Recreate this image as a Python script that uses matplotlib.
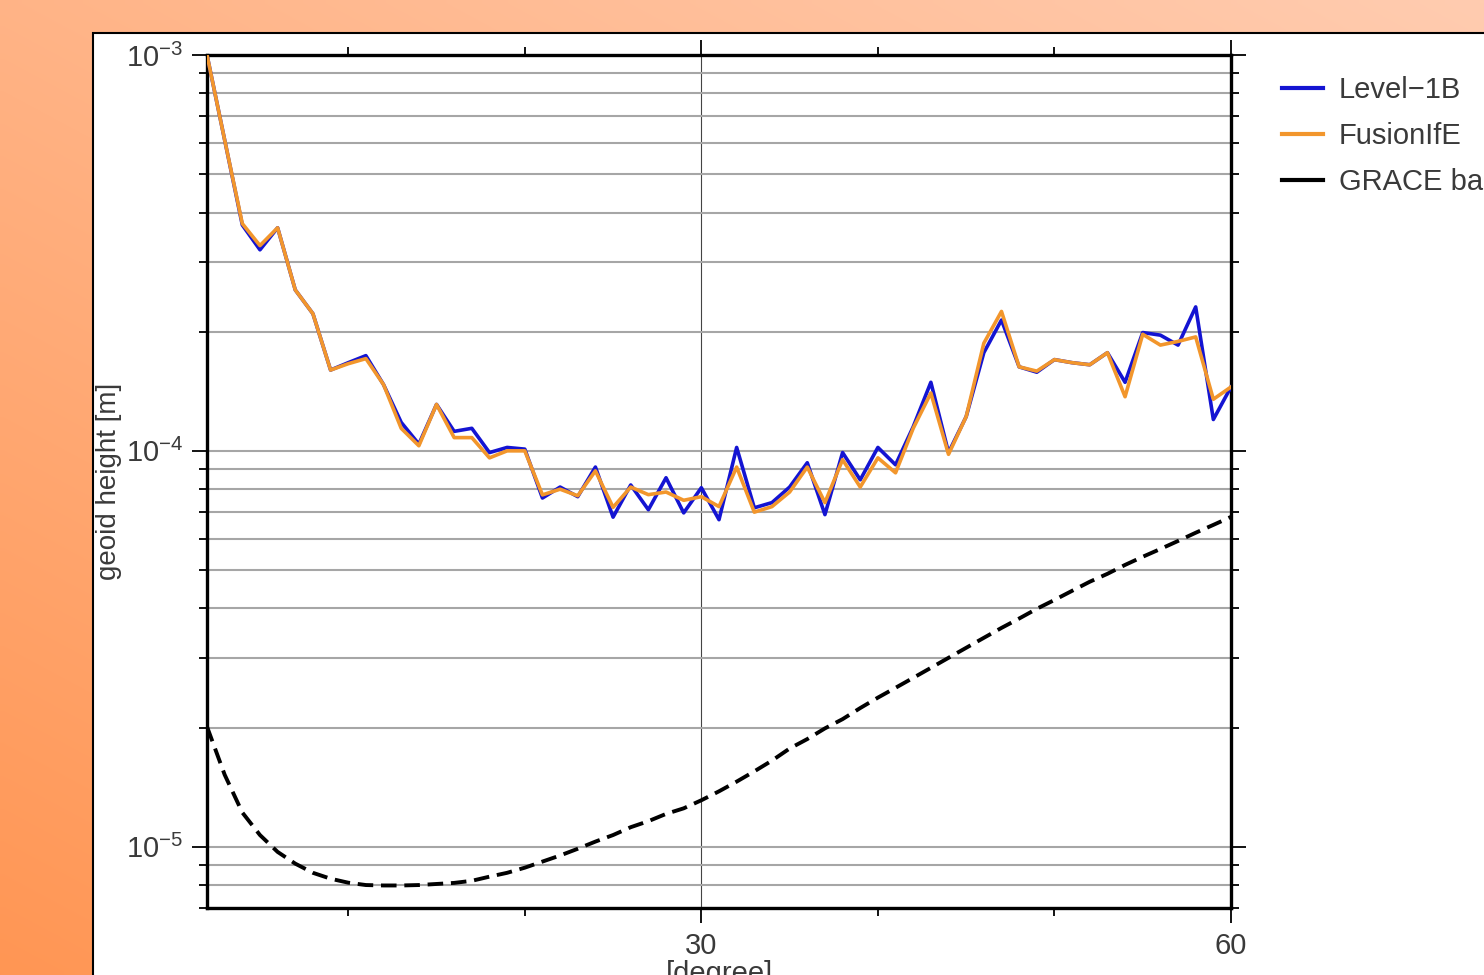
import numpy as np
import matplotlib
matplotlib.use("Agg")
import matplotlib.pyplot as plt
from matplotlib.patches import Rectangle
from matplotlib.lines import Line2D
from matplotlib.ticker import LogLocator, LogFormatterSciNotation, NullFormatter

plt.rcParams['font.family'] = ['Liberation Sans', 'DejaVu Sans']
plt.rcParams['mathtext.fontset'] = 'custom'
plt.rcParams['mathtext.rm'] = 'Liberation Sans'
plt.rcParams['mathtext.it'] = 'Liberation Sans:italic'

# spherical harmonic degree
degree = np.arange(2, 61)

# degree amplitudes [m]
level1b = [1.0e-3, 6.1e-4, 3.72e-4, 3.22e-4, 3.66e-4, 2.55e-4, 2.22e-4, 1.60e-4, 1.67e-4, 1.74e-4,
           1.47e-4, 1.18e-4, 1.04e-4, 1.31e-4, 1.12e-4, 1.14e-4, 9.9e-5, 1.02e-4, 1.01e-4, 7.6e-5,
           8.1e-5, 7.66e-5, 9.1e-5, 6.8e-5, 8.2e-5, 7.1e-5, 8.55e-5, 6.97e-5, 8.07e-5, 6.7e-5,
           1.02e-4, 7.18e-5, 7.4e-5, 8.1e-5, 9.33e-5, 6.9e-5, 9.9e-5, 8.45e-5, 1.02e-4, 9.22e-5,
           1.15e-4, 1.49e-4, 9.9e-5, 1.22e-4, 1.77e-4, 2.14e-4, 1.63e-4, 1.58e-4, 1.70e-4, 1.67e-4,
           1.65e-4, 1.77e-4, 1.49e-4, 1.99e-4, 1.96e-4, 1.85e-4, 2.31e-4, 1.20e-4, 1.45e-4]
fusion = [1.0e-3, 6.1e-4, 3.75e-4, 3.3e-4, 3.66e-4, 2.55e-4, 2.22e-4, 1.60e-4, 1.66e-4, 1.71e-4,
          1.47e-4, 1.14e-4, 1.03e-4, 1.31e-4, 1.08e-4, 1.08e-4, 9.6e-5, 1.0e-4, 1.0e-4, 7.74e-5,
          8.0e-5, 7.7e-5, 8.9e-5, 7.2e-5, 8.1e-5, 7.75e-5, 7.87e-5, 7.5e-5, 7.66e-5, 7.23e-5,
          9.1e-5, 7.0e-5, 7.23e-5, 7.87e-5, 9.1e-5, 7.4e-5, 9.5e-5, 8.1e-5, 9.6e-5, 8.8e-5,
          1.14e-4, 1.40e-4, 9.8e-5, 1.22e-4, 1.87e-4, 2.25e-4, 1.63e-4, 1.59e-4, 1.70e-4, 1.67e-4,
          1.65e-4, 1.77e-4, 1.37e-4, 1.97e-4, 1.85e-4, 1.89e-4, 1.94e-4, 1.35e-4, 1.45e-4]
grace = [2.01e-5, 1.52e-5, 1.22e-5, 1.07e-5, 9.7e-6, 9.06e-6, 8.59e-6, 8.30e-6, 8.11e-6, 8.0e-6,
         7.98e-6, 7.98e-6, 8.0e-6, 8.05e-6, 8.1e-6, 8.2e-6, 8.4e-6, 8.59e-6, 8.85e-6, 9.17e-6,
         9.5e-6, 9.88e-6, 1.03e-5, 1.07e-5, 1.12e-5, 1.16e-5, 1.21e-5, 1.25e-5, 1.31e-5, 1.38e-5,
         1.46e-5, 1.55e-5, 1.65e-5, 1.77e-5, 1.87e-5, 1.99e-5, 2.10e-5, 2.24e-5, 2.38e-5, 2.52e-5,
         2.67e-5, 2.83e-5, 3.0e-5, 3.18e-5, 3.37e-5, 3.57e-5, 3.77e-5, 3.99e-5, 4.2e-5, 4.43e-5,
         4.67e-5, 4.89e-5, 5.15e-5, 5.4e-5, 5.65e-5, 5.92e-5, 6.21e-5, 6.5e-5, 6.81e-5]
labels = ['Level\u22121B', 'FusionIfE', 'GRACE baseline']

W, H = 1484, 975
fig = plt.figure(figsize=(W / 100, H / 100), dpi=100)

# orange backdrop, lighter towards the top right
bg = fig.add_axes([0, 0, 1, 1])
bg.set_xlim(0, 1)
bg.set_ylim(0, 1)
bg.axis('off')
gx, gy = np.meshgrid(np.linspace(0, 1, 200), np.linspace(1, 0, 150))
t = np.clip(0.55 * (1 - gy) + 0.45 * (1 - gx), 0, 1)[..., None]
c0 = np.array([255, 204, 176]) / 255
c1 = np.array([255, 150, 84]) / 255
bg.imshow(c0 * (1 - t) + c1 * t, extent=[0, 1, 0, 1], aspect='auto', interpolation='bilinear')
bg.add_patch(Rectangle((93 / W, -0.1), 2, 1.1 - 33 / H, facecolor='white',
                       edgecolor='black', lw=1.5, clip_on=False))

ax = fig.add_axes([207 / W, 1 - 908 / H, 1024 / W, 853 / H])
ax.set_facecolor('none')
ax.set_yscale('log')
ax.set_xlim(2, 60)
ax.set_ylim(7.0e-6, 1e-3)

ax.plot(degree, level1b, color='#1414d2', lw=2.6, zorder=3)
ax.plot(degree, fusion, color='#f2962c', lw=2.6, zorder=4)
ax.plot(degree, grace, color='black', lw=2.8, dashes=(4, 2), zorder=5)

txt = '#3a3a3a'
ax.set_xticks([30, 60])
ax.set_xticks([10, 20, 40, 50], minor=True)
ax.yaxis.set_major_locator(LogLocator(base=10))
ax.yaxis.set_minor_locator(LogLocator(base=10, subs=np.arange(2, 10)))
ax.yaxis.set_major_formatter(LogFormatterSciNotation())
ax.yaxis.set_minor_formatter(NullFormatter())
ax.tick_params(which='major', direction='out', length=11, width=1.3, top=True, right=True,
               labelsize=21, labelcolor=txt, pad=6)
ax.tick_params(which='minor', direction='out', length=6, width=1.3, top=True, right=True)

ax.yaxis.grid(True, which='both', color='#a6a6a6', lw=1.5)
ax.xaxis.grid(True, which='major', color='#444444', lw=0.8)
ax.set_axisbelow(True)
for s in ax.spines.values():
    s.set_linewidth(2.4)

ax.set_xlabel('[degree]', fontsize=21, color=txt, labelpad=0)
ax.set_ylabel('geoid height [m]', fontsize=20, color=txt)
ax.yaxis.set_label_coords(-0.083, 0.5)

handles = [Line2D([], [], color='#1414d2', lw=3),
           Line2D([], [], color='#f2962c', lw=3),
           Line2D([], [], color='black', lw=3)]
leg = fig.legend(handles, labels, loc='upper left', bbox_to_anchor=(1282 / W, 1 - 76 / H),
                 frameon=False, fontsize=21, handlelength=1.4, handletextpad=0.55,
                 labelspacing=0.62, borderpad=0, borderaxespad=0)
for tx in leg.get_texts():
    tx.set_color(txt)

fig.savefig('out.png', dpi=100)
